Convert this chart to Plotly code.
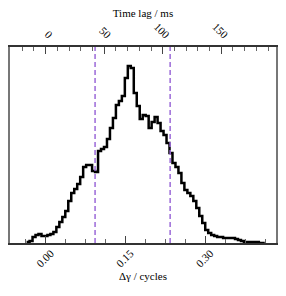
import plotly.graph_objects as go

# Histogram of phase lag (cycles)
bin_start = -0.036
bin_width = 0.0056
counts = [1, 2, 6, 8, 9, 7, 7, 8, 9, 11, 16, 21, 26, 32, 42, 50, 54, 59, 66, 76,
          78, 78, 72, 71, 92, 94, 96, 104, 115, 125, 138, 142, 147, 165, 177, 175,
          150, 137, 124, 128, 127, 115, 121, 126, 120, 112, 108, 100, 90, 80, 76,
          70, 60, 53, 50, 47, 42, 35, 27, 20, 13, 10, 8, 7, 6, 6, 5, 5, 5, 5, 4,
          3, 2, 1, 1, 1, 1, 1, 0, 0]
vlines = [0.0928, 0.234]
bottom_ticks = [0.0, 0.15, 0.30]
bottom_labels = ["0.00", "0.15", "0.30"]
top_ticks = [0, 50, 100, 150]
top_labels = ["0", "50", "100", "150"]

edges = [bin_start + i * bin_width for i in range(len(counts) + 1)]
ys = counts + [counts[-1]]

fig = go.Figure()
fig.add_trace(go.Scatter(x=edges, y=ys, mode="lines", line=dict(shape="hv", color="black", width=2.5),
                         showlegend=False, hoverinfo="skip"))
# dummy trace for top axis
fig.add_trace(go.Scatter(x=[0], y=[0], xaxis="x2", mode="markers", marker=dict(opacity=0),
                         showlegend=False, hoverinfo="skip"))

for v in vlines:
    fig.add_shape(type="line", x0=v, x1=v, y0=0, y1=1, xref="x", yref="paper",
                  line=dict(color="#9b6ad8", width=1.5, dash="5px,3px"))

font = dict(family="Liberation Serif, serif", size=11, color="black")

fig.update_layout(
    width=286, height=296,
    margin=dict(l=10, r=10, t=47, b=53),
    paper_bgcolor="white", plot_bgcolor="white",
    font=font,
    xaxis=dict(range=[-0.0672, 0.4331], tickvals=bottom_ticks, ticktext=bottom_labels,
               ticks="inside", ticklen=7, tickwidth=1, tickcolor="#444", tickangle=-45,
               tickfont=font, automargin=False, ticklabelshift=5, ticklabelstandoff=-2,
               minor=dict(dtick=0.0375, tick0=0, ticks="inside", ticklen=4, tickcolor="#666"),
               showgrid=False, zeroline=False, showline=True, linecolor="#333", linewidth=1.5,
               title=dict(text="Δγ / cycles", font=font, standoff=4)),
    xaxis2=dict(range=[-30.5, 196.8], overlaying="x", side="top", tickvals=top_ticks, ticktext=top_labels,
                ticks="inside", ticklen=7, tickwidth=1, tickcolor="#444", tickangle=45,
                tickfont=font, automargin=False, ticklabelshift=6,
                minor=dict(dtick=10, tick0=0, ticks="inside", ticklen=4, tickcolor="#666"),
                showgrid=False, zeroline=False, showline=True, linecolor="#333", linewidth=1.5,
                title=dict(text="Time lag / ms", font=font, standoff=1)),
    yaxis=dict(range=[0, 196], showticklabels=False, ticks="", showgrid=False, zeroline=False,
               showline=True, linecolor="#777", linewidth=1.5, mirror=True, automargin=False),
)

fig.write_html("out.html", config={"displayModeBar": False},
               post_script="document.body.style.margin='0';")
